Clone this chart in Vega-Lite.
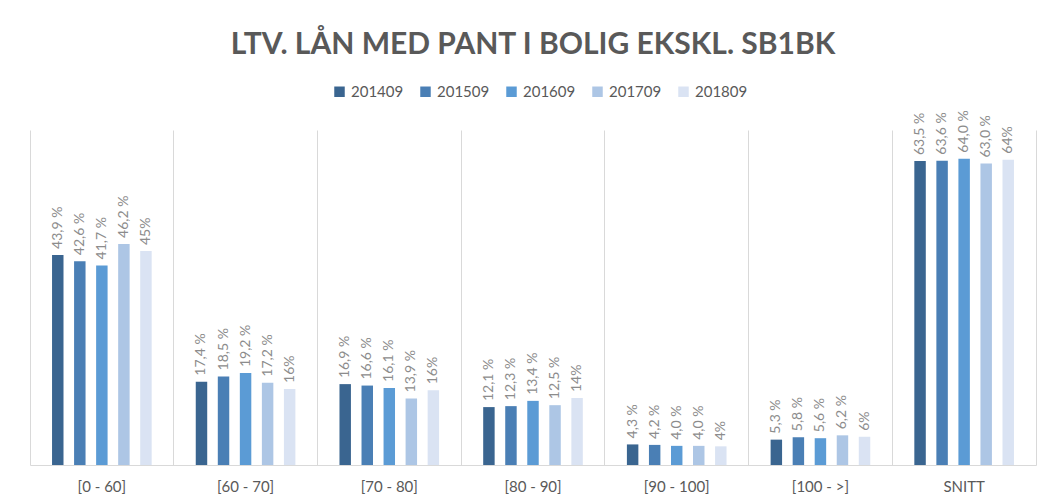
{
  "$schema": "https://vega.github.io/schema/vega-lite/v6.json",
  "autosize": {"type": "none"},
  "width": 1006,
  "height": 335,
  "padding": {"left": 30, "top": 130, "right": 11, "bottom": 38},
  "background": "white",
  "title": {
    "text": "LTV. LÅN MED PANT I BOLIG EKSKL. SB1BK",
    "font": "Lato",
    "fontSize": 30,
    "fontWeight": "bold",
    "color": "#595959",
    "anchor": "middle",
    "offset": 24
  },
  "data": {
    "values": [
      {"group": "[0 - 60]", "period": "201409", "value": 43.9, "label": "43,9 %"},
      {"group": "[0 - 60]", "period": "201509", "value": 42.6, "label": "42,6 %"},
      {"group": "[0 - 60]", "period": "201609", "value": 41.7, "label": "41,7 %"},
      {"group": "[0 - 60]", "period": "201709", "value": 46.2, "label": "46,2 %"},
      {"group": "[0 - 60]", "period": "201809", "value": 44.7, "label": "45%"},
      {"group": "[60 - 70]", "period": "201409", "value": 17.4, "label": "17,4 %"},
      {"group": "[60 - 70]", "period": "201509", "value": 18.5, "label": "18,5 %"},
      {"group": "[60 - 70]", "period": "201609", "value": 19.2, "label": "19,2 %"},
      {"group": "[60 - 70]", "period": "201709", "value": 17.2, "label": "17,2 %"},
      {"group": "[60 - 70]", "period": "201809", "value": 15.9, "label": "16%"},
      {"group": "[70 - 80]", "period": "201409", "value": 16.9, "label": "16,9 %"},
      {"group": "[70 - 80]", "period": "201509", "value": 16.6, "label": "16,6 %"},
      {"group": "[70 - 80]", "period": "201609", "value": 16.1, "label": "16,1 %"},
      {"group": "[70 - 80]", "period": "201709", "value": 13.9, "label": "13,9 %"},
      {"group": "[70 - 80]", "period": "201809", "value": 15.6, "label": "16%"},
      {"group": "[80 - 90]", "period": "201409", "value": 12.1, "label": "12,1 %"},
      {"group": "[80 - 90]", "period": "201509", "value": 12.3, "label": "12,3 %"},
      {"group": "[80 - 90]", "period": "201609", "value": 13.4, "label": "13,4 %"},
      {"group": "[80 - 90]", "period": "201709", "value": 12.5, "label": "12,5 %"},
      {"group": "[80 - 90]", "period": "201809", "value": 14.0, "label": "14%"},
      {"group": "[90 - 100]", "period": "201409", "value": 4.3, "label": "4,3 %"},
      {"group": "[90 - 100]", "period": "201509", "value": 4.2, "label": "4,2 %"},
      {"group": "[90 - 100]", "period": "201609", "value": 4.0, "label": "4,0 %"},
      {"group": "[90 - 100]", "period": "201709", "value": 4.0, "label": "4,0 %"},
      {"group": "[90 - 100]", "period": "201809", "value": 3.9, "label": "4%"},
      {"group": "[100 - >]", "period": "201409", "value": 5.3, "label": "5,3 %"},
      {"group": "[100 - >]", "period": "201509", "value": 5.8, "label": "5,8 %"},
      {"group": "[100 - >]", "period": "201609", "value": 5.6, "label": "5,6 %"},
      {"group": "[100 - >]", "period": "201709", "value": 6.2, "label": "6,2 %"},
      {"group": "[100 - >]", "period": "201809", "value": 5.9, "label": "6%"},
      {"group": "SNITT", "period": "201409", "value": 63.5, "label": "63,5 %"},
      {"group": "SNITT", "period": "201509", "value": 63.6, "label": "63,6 %"},
      {"group": "SNITT", "period": "201609", "value": 64.0, "label": "64,0 %"},
      {"group": "SNITT", "period": "201709", "value": 63.0, "label": "63,0 %"},
      {"group": "SNITT", "period": "201809", "value": 63.8, "label": "64%"}
    ]
  },
  "encoding": {
    "x": {
      "field": "group",
      "type": "nominal",
      "sort": ["[0 - 60]", "[60 - 70]", "[70 - 80]", "[80 - 90]", "[90 - 100]", "[100 - >]", "SNITT"],
      "scale": {"paddingInner": 0, "paddingOuter": 0},
      "axis": {
        "title": null,
        "labelAngle": 0,
        "labelFont": "Lato",
        "labelFontSize": 15,
        "labelColor": "#595959",
        "labelPadding": 14,
        "ticks": false,
        "grid": true,
        "bandPosition": 0,
        "gridColor": "#d9d9d9",
        "gridWidth": 1,
        "domainColor": "#d9d9d9",
        "domainWidth": 1
      }
    },
    "xOffset": {
      "field": "period",
      "type": "nominal",
      "scale": {"paddingInner": 0.48, "paddingOuter": 1.15}
    },
    "y": {
      "field": "value",
      "type": "quantitative",
      "scale": {"domain": [0, 70], "nice": false},
      "axis": {
        "orient": "right",
        "title": null,
        "labels": false,
        "ticks": false,
        "grid": false,
        "domain": true,
        "domainColor": "#d9d9d9",
        "domainWidth": 1
      }
    }
  },
  "layer": [
    {
      "mark": {"type": "bar"},
      "encoding": {
        "color": {
          "field": "period",
          "type": "nominal",
          "scale": {
            "domain": ["201409", "201509", "201609", "201709", "201809"],
            "range": ["#3a6590", "#4a7fb5", "#5b9bd5", "#adc6e5", "#dae3f3"]
          },
          "legend": {
            "title": null,
            "orient": "none",
            "legendX": 302,
            "legendY": -46,
            "direction": "horizontal",
            "symbolType": "square",
            "symbolSize": 110,
            "symbolStrokeWidth": 0,
            "labelFont": "Lato",
            "labelFontSize": 15,
            "labelColor": "#595959",
            "columnPadding": 14,
            "labelOffset": 4
          }
        }
      }
    },
    {
      "mark": {
        "type": "text",
        "angle": 270,
        "align": "left",
        "baseline": "middle",
        "dx": 6,
        "font": "Lato",
        "fontSize": 14,
        "color": "#8c8c8c"
      },
      "encoding": {
        "text": {"field": "label", "type": "nominal"}
      }
    }
  ],
  "config": {
    "view": {"stroke": null}
  }
}
